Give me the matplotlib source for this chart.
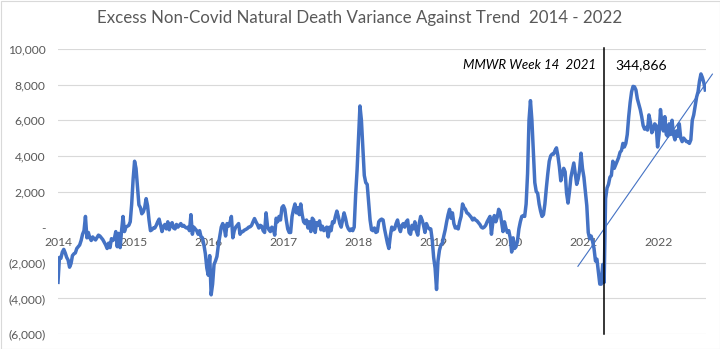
import matplotlib
matplotlib.use("Agg")
import matplotlib.pyplot as plt
from matplotlib.patches import Rectangle
from matplotlib.ticker import FuncFormatter

plt.rcParams['font.family'] = ['Lato', 'DejaVu Sans']

# weekly variance against trend
w2014 = [-3100, -1700, -1750, -1400, -1250, -1450, -1700, -1850, -2250, -2050,
         -1600, -1500, -1450, -1200, -1100, -1000, -750, -400, -200, 600,
         -600, -300, -600, -750, -550, -650, -720, -580, -450, -500,
         -600, -700, -850, -1000, -1200, -900, -1150, -650, -750, -650,
         -250, -1100, -350, -1150, -200, 600, -250, 0, 50, 100,
         300, 1300]
w2015 = [2700, 3700, 3300, 2300, 1250, 1100, 750, 850, 1100, 1600,
         1200, 400, -200, -150, -50, -50, 100, 300, 450, 100,
         -250, 50, 150, -100, 300, -150, 150, 250, -50, -100,
         150, 0, 100, 200, 50, 100, 0, -50, 0, -200,
         700, -400, 0, -100, -200, -400, -200, -550, -600, -1000,
         -1500, -2300]
w2016 = [-2700, -1600, -3800, -3200, -2100, -1900, -1650, -1000, -500, 0,
         200, 0, -500, 200, 50, 250, 600, -600, -200, 0,
         100, 200, -400, -250, -250, -170, -130, -80, 0, 20,
         100, 300, 480, 300, 150, -50, 100, 50, -200, -300,
         800, 50, -150, -250, 0, -100, -450, 500, 300, 600,
         400, 1100]
w2017 = [1200, 1000, 400, -100, -300, -300, 600, 1000, 1300, 800,
         1100, 700, 1300, 700, 300, 200, 400, -50, 300, -250,
         500, 400, -300, 250, 100, 350, -150, 50, -200, -100,
         0, -550, 0, -200, 300, 250, 600, 900, 600, 200,
         0, 400, 800, 500, 100, -100, -200, -100, -200, 0,
         1800, 3200]
w2018 = [5000, 6800, 6000, 4400, 2900, 2500, 2400, 1400, 400, -150,
         -200, -50, -300, -250, 300, 400, 450, 400, -100, -500,
         -900, -1200, -500, 0, -150, -100, 200, 400, 0, -250,
         100, 200, 0, 300, 400, -300, -400, 100, -100, 300,
         -200, -450, 200, 600, 400, 100, -300, 200, 0, -100,
         -100, -700]
w2019 = [-1700, -2300, -3500, -1900, -1300, -1000, -900, -500, -150, 300,
         700, 1000, 500, 800, 200, -50, 0, -100, 300, 600,
         1300, 1100, 1000, 800, 750, 650, 550, 400, 500, 400,
         350, 250, 150, 0, -50, 0, 100, 300, 450, 600,
         -400, 300, 650, 300, 550, 1000, 850, 300, -250, 300,
         -50, -300]
w2020 = [-200, -600, -1400, -600, -1200, -1100, -800, -100, 300, 600,
         650, 600, 1300, 3000, 6000, 7100, 6000, 4300, 2500, 2000,
         1900, 1300, 900, 600, 700, 1300, 2200, 3000, 3700, 4000,
         4100, 4100, 4300, 4450, 4000, 3400, 2600, 3000, 3300, 3100,
         1900, 1350, 2000, 2800, 3200, 3600, 3000, 2400, 2700, 3200,
         4150, 3300]
w2021 = [2800, 2000, 1200, -300, -650, -500, -800, -1200, -1900, -1800,
         -2500, -3200, -3200, -2100, -3100, 1600, 2200, 2400, 2800, 2900,
         3700, 3300, 3500, 3700, 3900, 4200, 4300, 4700, 4500, 4700,
         5200, 6200, 7000, 7600, 7900, 7880, 7700, 7200, 6900, 6600,
         6200, 5700, 5500, 5600, 5450, 6300, 5900, 5300, 5500, 5800,
         5700, 4500]
w2022 = [5200, 6600, 5800, 5400, 6200, 5200, 5100, 5800, 5200, 6000,
         5200, 4900, 5400, 5100, 5800, 5000, 4800, 5000, 4900, 4800,
         4800, 4700, 4900, 6000, 6300, 6800, 7300, 7600, 8200, 8600,
         8400, 8100, 7700]

years = [2014, 2015, 2016, 2017, 2018, 2019, 2020, 2021, 2022]
weekly = [w2014, w2015, w2016, w2017, w2018, w2019, w2020, w2021, w2022]

# hand drawn trend line (start / end points)
trend_x = [2020.92, 2022.71]
trend_y = [-2200, 8590]

marker_week = 14
marker_text = "MMWR Week 14  2021"
total_text = "344,866"

x = []
y = []
for yr, vals in zip(years, weekly):
    for i, v in enumerate(vals):
        x.append(yr + i / 52)
        y.append(v)

fig = plt.figure(figsize=(7.2, 3.49), dpi=100)
ax = fig.add_axes([58 / 720, 1 - 334 / 349, 648 / 720, 285 / 349])

ax.plot(x, y, color='#4472C4', lw=2.5, zorder=3, solid_joinstyle='round')
ax.plot(trend_x, trend_y, color='#4472C4', lw=0.8, zorder=3, clip_on=False)
ax.axvline(2021 + marker_week / 52, ymin=0, ymax=1.004, color='black', lw=1.1,
           zorder=4, clip_on=False)

ax.set_xlim(2014, 2022 + 32.5 / 52)
ax.set_ylim(-6000, 10000)

yt = list(range(-6000, 10001, 2000))
ax.set_yticks(yt)
for v in yt:
    if v != 0:
        ax.axhline(v, color='#D9D9D9', lw=0.8, zorder=0)


def fmt(v, pos):
    if v == 0:
        return '-'
    if v < 0:
        return '({:,.0f})'.format(-v)
    return '{:,.0f}'.format(v)


ax.yaxis.set_major_formatter(FuncFormatter(fmt))
ax.set_xticks(years)
ax.set_xticklabels([str(v) for v in years])
ax.spines['bottom'].set_position(('data', 0))
for s in ax.spines.values():
    s.set_visible(False)
ax.tick_params(axis='y', length=0, pad=9, labelsize=8.7, labelcolor='#595959')
ax.tick_params(axis='x', length=0, pad=7, labelsize=8.7, labelcolor='#595959')

ax.text(2021.157, 9100, marker_text, ha='right', va='center', fontsize=9.5,
        style='italic', color='black')
ax.text(2021.763, 9100, total_text, ha='center', va='center', fontsize=10,
        color='black')

fig.text(0.5, 1 - 18 / 349, 'Excess Non-Covid Natural Death Variance Against Trend  2014 - 2022',
         ha='center', va='center', fontsize=12.2, color='#595959')

fig.patches.append(Rectangle((0.5 / 720, 0.5 / 349), 719 / 720, 348 / 349,
                             transform=fig.transFigure, fill=False,
                             edgecolor='#D9D9D9', lw=0.8))

fig.savefig('out.png', dpi=100)
